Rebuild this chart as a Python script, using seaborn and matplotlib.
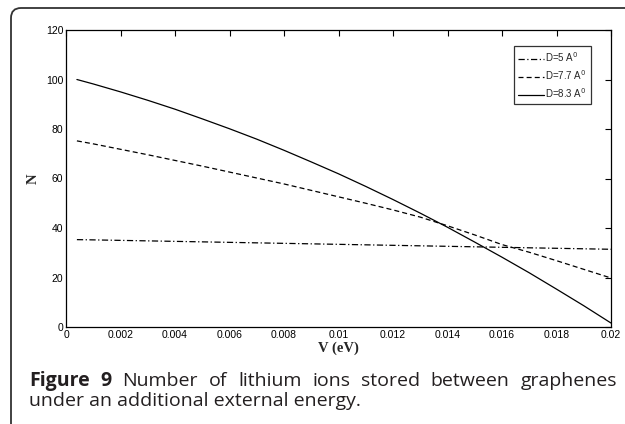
import numpy as np
import pandas as pd
import matplotlib
matplotlib.use('Agg')
import matplotlib.pyplot as plt
import seaborn as sns
from matplotlib.patches import FancyBboxPatch

# values
v = [0.0004, 0.001, 0.002, 0.003, 0.004, 0.005, 0.006, 0.007, 0.008, 0.009, 0.010,
     0.011, 0.012, 0.013, 0.014, 0.015, 0.016, 0.017, 0.018, 0.019, 0.020]
n_d5 = [35.3, 35.2, 35.0, 34.8, 34.6, 34.4, 34.2, 34.0, 33.8, 33.6, 33.4,
        33.2, 33.0, 32.8, 32.6, 32.4, 32.2, 32.0, 31.8, 31.6, 31.4]
n_d77 = [75.2, 74.0, 71.8, 69.6, 67.3, 65.0, 62.6, 60.2, 57.8, 55.2, 52.6,
         50.0, 47.3, 44.4, 40.9, 37.2, 33.3, 30.2, 26.8, 23.3, 19.8]
n_d83 = [100.0, 98.2, 95.0, 91.6, 88.0, 84.1, 80.1, 75.9, 71.4, 66.7, 61.9,
         56.8, 51.5, 46.0, 40.3, 34.3, 28.2, 21.9, 15.3, 8.6, 1.6]
labels = ['D=5 A$^0$', 'D=7.7 A$^0$', 'D=8.3 A$^0$']
xticks = [0, 0.002, 0.004, 0.006, 0.008, 0.01, 0.012, 0.014, 0.016, 0.018, 0.02]
xtick_labels = ['0', '0.002', '0.004', '0.006', '0.008', '0.01', '0.012', '0.014', '0.016', '0.018', '0.02']
yticks = [0, 20, 40, 60, 80, 100, 120]

df = pd.DataFrame({
    'V': v * 3,
    'N': n_d5 + n_d77 + n_d83,
    'series': [labels[0]] * len(v) + [labels[1]] * len(v) + [labels[2]] * len(v),
})

sns.set_theme(style='white')
plt.rcParams['font.family'] = ['Liberation Sans', 'DejaVu Sans']

fig = plt.figure(figsize=(6.25, 4.24), dpi=100)
ax = fig.add_axes([66 / 625, 1 - 327 / 424, 545 / 625, 297 / 424])

sns.lineplot(data=df, x='V', y='N', style='series', hue='series',
             palette={labels[0]: 'black', labels[1]: 'black', labels[2]: 'black'},
             dashes={labels[0]: (5, 2, 1, 2), labels[1]: (4, 2.5), labels[2]: ''},
             linewidth=0.9, ax=ax, legend=True)

ax.set_xlim(0, 0.02)
ax.set_ylim(0, 120)
ax.set_xticks(xticks)
ax.set_xticklabels(xtick_labels)
ax.set_yticks(yticks)
ax.tick_params(direction='in', length=4, width=0.8, colors='black', labelsize=7.5,
               top=True, right=True, pad=2)
for s in ax.spines.values():
    s.set_color('black')
    s.set_linewidth(0.9)

ax.set_xlabel('V (eV)', family='Liberation Serif', fontweight='bold', fontsize=10.5, labelpad=1)
ax.set_ylabel('N', family='Liberation Serif', fontweight='bold', fontsize=10.5, labelpad=4)

leg = ax.legend(loc='upper right', bbox_to_anchor=(0.963, 0.945), fontsize=7, frameon=True,
                fancybox=False, edgecolor='black', handlelength=2.6, handletextpad=0.2,
                borderpad=0.4, labelspacing=0.45, borderaxespad=0)
leg.get_frame().set_linewidth(0.9)
for line in leg.get_lines():
    line.set_linewidth(0.9)

# caption frame, rounded on the top-left corner
frame = FancyBboxPatch((0.11, -0.6), 8.0, 4.16 + 0.6,
                       boxstyle='round,pad=0,rounding_size=0.1',
                       transform=fig.dpi_scale_trans, fill=False,
                       edgecolor='#333333', linewidth=1.3, clip_on=False)
fig.patches.append(frame)

# caption text, first line justified
fig.canvas.draw()
renderer = fig.canvas.get_renderer()
cap_font = ['Open Sans', 'DejaVu Sans']
cap_size = 14
words1 = [('Figure', 'bold'), ('9', 'bold'), ('Number', 'normal'), ('of', 'normal'),
          ('lithium', 'normal'), ('ions', 'normal'), ('stored', 'normal'),
          ('between', 'normal'), ('graphenes', 'normal')]
x_left, x_right = 29, 617
y1 = 424 - 386
widths = []
texts = []
for w, fw in words1:
    t = fig.text(0, y1 / 424, w, fontsize=cap_size, fontweight=fw, family=cap_font,
                 color='#231f20', va='baseline', ha='left')
    texts.append(t)
    widths.append(t.get_window_extent(renderer).width)
gap = (x_right - x_left - sum(widths)) / (len(words1) - 1)
xpos = x_left
for t, wd in zip(texts, widths):
    t.set_x(xpos / 625)
    xpos += wd + gap

fig.text(x_left / 625, (424 - 406) / 424, 'under an additional external energy.',
         fontsize=cap_size, family=cap_font, color='#231f20', va='baseline', ha='left')

fig.savefig('out.png', dpi=100)
